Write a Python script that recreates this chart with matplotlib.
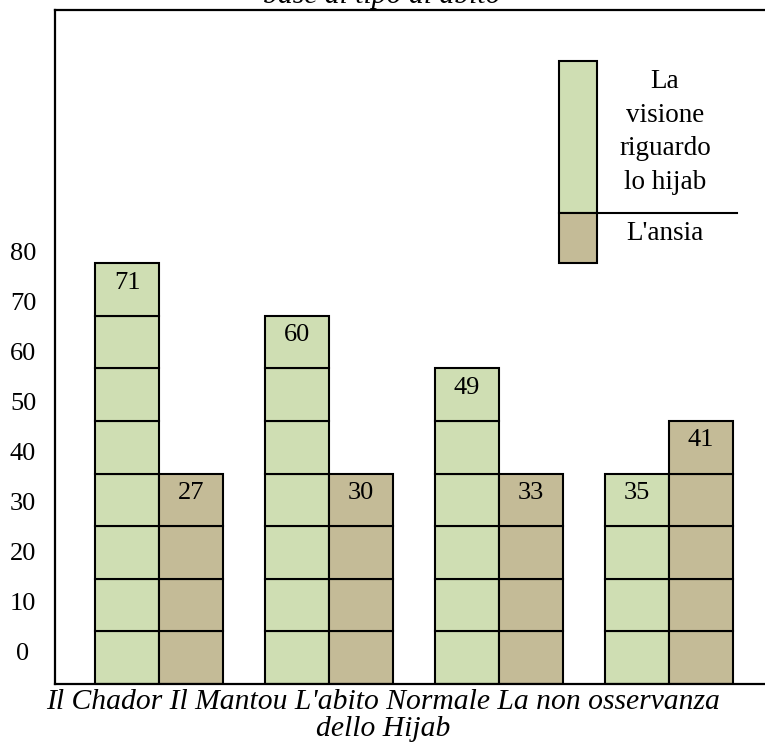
import matplotlib
matplotlib.use('Agg')
import matplotlib.pyplot as plt
from matplotlib.patches import Rectangle
import numpy as np

plt.rcParams['font.family'] = ['Liberation Serif', 'DejaVu Serif']

# categories joined into one wrapped label as in the original
categories = ["Il Chador", "Il Mantou", "L'abito Normale", "La non osservanza\ndello Hijab"]
series_names = ["La\nvisione\nriguardo\nlo hijab", "L'ansia"]
hijab_view = [71, 60, 49, 35]
anxiety = [27, 30, 33, 41]
# number of stacked pictogram boxes shown for each bar
hijab_boxes = [8, 7, 6, 4]
anxiety_boxes = [4, 4, 4, 5]
yticks = [0, 10, 20, 30, 40, 50, 60, 70, 80]
title = "Il punteggio medio della visione riguardo lo hijab e dell'ansia in\nbase al tipo di abito"

GREEN = "#CFDEB3"
BROWN = "#C4BB97"

W, H = 765, 749
fig = plt.figure(figsize=(W / 100, H / 100), dpi=100)
ax = fig.add_axes([55 / W, (H - 684) / H, 1 - 55 / W, (684 - 10) / H])

y_min, y_max = -6.4, 128.4
box_h = (y_max - y_min) * (684 - 263) / (684 - 10) / 8
bar_w = 0.376

x = np.arange(len(categories))
for i in x:
    for vals, boxes, col, side in [(hijab_view, hijab_boxes, GREEN, -1),
                                   (anxiety, anxiety_boxes, BROWN, 0)]:
        left = i + side * bar_w
        for k in range(boxes[i]):
            ax.add_patch(Rectangle((left, y_min + k * box_h), bar_w, box_h,
                                   facecolor=col, edgecolor='black', linewidth=1.5))
        top = y_min + boxes[i] * box_h
        ax.text(left + bar_w / 2, top - 3.9, str(vals[i]), ha='center', va='center',
                fontsize=19)

ax.set_xlim(-0.612, 3.565)
ax.set_ylim(y_min, y_max)
ax.set_xticks([])
ax.set_yticks(yticks)
ax.tick_params(axis='y', length=0, pad=23, labelsize=19)
for lab in ax.get_yticklabels():
    lab.set_horizontalalignment('center')
for s in ['left', 'top', 'bottom']:
    ax.spines[s].set_linewidth(1.6)
ax.spines['right'].set_visible(False)

fig.text(383 / W, (H - 689) / H, " ".join(categories), ha='center', va='top',
         fontsize=21.3, style='italic', linespacing=1.05)
fig.text(382 / W, (H - 3) / H, title, ha='center', va='baseline', fontsize=21.3,
         style='italic', linespacing=1.0)

# legend drawn by hand
fig.patches.append(Rectangle((559 / W, (H - 213) / H), 38 / W, 152 / H, facecolor=GREEN,
                             edgecolor='black', linewidth=1.5, transform=fig.transFigure))
fig.patches.append(Rectangle((559 / W, (H - 263) / H), 38 / W, 50 / H, facecolor=BROWN,
                             edgecolor='black', linewidth=1.5, transform=fig.transFigure))
fig.lines.append(plt.Line2D([597 / W, 737 / W], [(H - 213) / H] * 2, color='black',
                            linewidth=1.5, transform=fig.transFigure))
fig.text(665 / W, (H - 132) / H, series_names[0], ha='center', va='center', fontsize=19.5,
         linespacing=1.45)
fig.text(665 / W, (H - 234) / H, series_names[1], ha='center', va='center', fontsize=19.5)

fig.savefig("out.png", dpi=100)
